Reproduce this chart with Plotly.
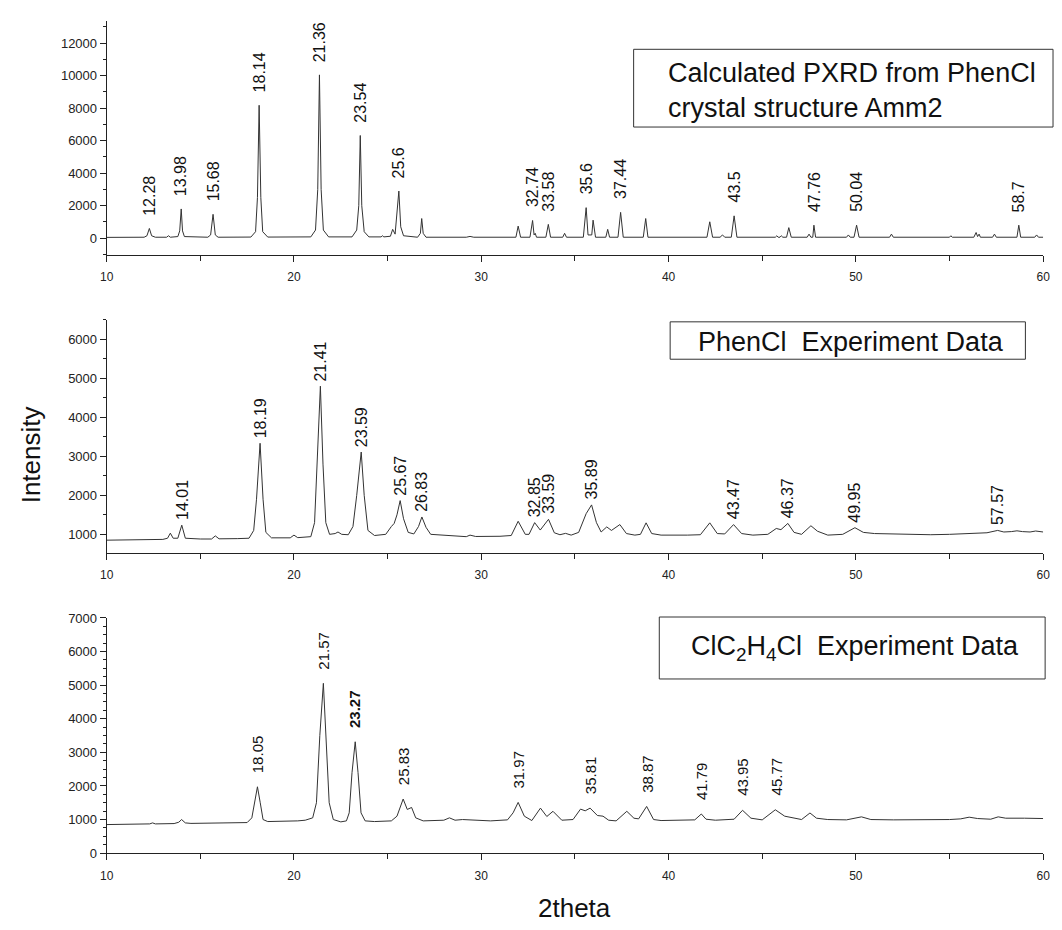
import numpy as np
import plotly.graph_objects as go

# ---------------- data ----------------
calc_x = [10.0, 12.0, 12.15, 12.28, 12.4, 12.6, 13.2, 13.3, 13.4, 13.8, 13.9, 13.98, 14.05, 14.15,
          15.4, 15.55, 15.68, 15.8, 15.95, 17.7, 17.95, 18.05, 18.14, 18.23, 18.33, 18.6,
          20.9, 21.15, 21.27, 21.36, 21.45, 21.57, 21.85, 23.1, 23.35, 23.46, 23.54, 23.62, 23.75, 24.0,
          24.65, 24.73, 24.8, 25.15, 25.27, 25.4, 25.6, 25.7, 25.85, 26.6, 26.75, 26.82, 26.9, 27.05,
          29.2, 29.4, 29.6, 31.85, 31.97, 32.1, 32.6, 32.74, 32.82, 32.88, 32.95, 33.45, 33.58, 33.7,
          34.35, 34.45, 34.55, 35.45, 35.6, 35.7, 35.9, 35.97, 36.1, 36.65, 36.75, 36.85,
          37.3, 37.44, 37.58, 38.65, 38.78, 38.9, 42.05, 42.2, 42.35, 42.75, 42.88, 43.0,
          43.35, 43.5, 43.65, 45.7, 45.78, 45.85, 45.95, 46.02, 46.1, 46.3, 46.42, 46.55,
          47.4, 47.5, 47.6, 47.7, 47.76, 47.85, 49.5, 49.6, 49.7, 49.9, 50.04, 50.17,
          51.8, 51.9, 52.0, 55.0, 55.07, 55.15, 56.3, 56.42, 56.5, 56.58, 56.65,
          57.3, 57.4, 57.5, 58.6, 58.7, 58.8, 59.55, 59.65, 59.75, 60.0]
calc_y = [50, 60, 150, 600, 150, 60, 60, 150, 60, 100, 450, 1800, 450, 100,
          60, 200, 1470, 200, 60, 70, 400, 2500, 8180, 2500, 400, 70,
          80, 500, 3000, 10050, 3000, 500, 80, 80, 500, 2000, 6320, 2000, 400, 80,
          80, 150, 80, 120, 545, 250, 2900, 700, 150, 60, 300, 1210, 300, 60,
          60, 110, 60, 60, 745, 60, 60, 1090, 200, 300, 60, 60, 850, 60,
          60, 300, 60, 60, 1880, 200, 200, 1110, 60, 60, 545, 60,
          60, 1590, 60, 60, 1210, 60, 60, 1010, 60, 60, 200, 60,
          60, 1375, 60, 60, 150, 60, 60, 150, 60, 60, 650, 60,
          60, 250, 60, 60, 800, 60, 60, 200, 60, 60, 800, 60,
          60, 250, 60, 60, 150, 60, 60, 350, 100, 250, 60,
          60, 250, 60, 60, 800, 60, 60, 200, 60, 60]

phen_x = [10.0, 11.0, 12.0, 13.0, 13.25, 13.4, 13.55, 13.8, 14.01, 14.2, 15.0, 15.6, 15.8, 16.0,
          17.0, 17.6, 17.85, 18.0, 18.19, 18.35, 18.5, 18.8, 19.8, 20.0, 20.2, 20.9, 21.1, 21.25,
          21.41, 21.55, 21.7, 21.9, 22.2, 22.35, 22.55, 22.9, 23.15, 23.35, 23.59, 23.75, 23.95,
          24.3, 24.9, 25.2, 25.35, 25.5, 25.67, 25.85, 26.1, 26.4, 26.65, 26.83, 27.05, 27.3,
          27.8, 28.3, 29.0, 29.2, 29.4, 29.7, 31.0, 31.6, 31.97, 32.35, 32.55, 32.85, 33.15,
          33.59, 33.9, 34.2, 34.5, 34.8, 35.2, 35.5, 35.6, 35.89, 36.15, 36.4, 36.7, 36.95,
          37.4, 37.75, 38.2, 38.5, 38.8, 39.1, 39.6, 41.0, 41.7, 42.2, 42.6, 43.0, 43.47, 43.9,
          44.5, 45.3, 45.75, 46.0, 46.37, 46.7, 47.1, 47.6, 47.95, 48.5, 49.3, 49.95, 50.4,
          51.0, 52.0, 53.0, 54.0, 55.0, 56.0, 57.0, 57.57, 57.9, 58.3, 58.6, 58.9, 59.3, 59.6, 60.0]
phen_y = [850, 855, 860, 870, 900, 1030, 900, 900, 1235, 900, 880, 880, 960, 885,
          890, 900, 1100, 1900, 3335, 1900, 1050, 910, 910, 980, 915, 940, 1300, 2800,
          4800, 2800, 1300, 1000, 1020, 1060, 1000, 990, 1200, 2000, 3110, 2000, 1100,
          970, 1000, 1200, 1280, 1500, 1865, 1400, 1050, 1010, 1200, 1445, 1180, 1000,
          980, 960, 940, 940, 980, 945, 950, 970, 1335, 1000, 1000, 1300, 1110,
          1385, 1040, 990, 1025, 980, 1050, 1450, 1530, 1755, 1300, 1060, 1190, 1100,
          1250, 1020, 980, 1000, 1295, 1020, 980, 980, 990, 1295, 1020, 1010, 1250, 1020,
          980, 1000, 1150, 1120, 1280, 1050, 1000, 1220, 1080, 980, 1000, 1170, 1050,
          1020, 1010, 1000, 990, 1000, 1020, 1040, 1100, 1060, 1070, 1090, 1070, 1060, 1085, 1060]

dce_x = [10.0, 11.0, 12.0, 12.3, 12.45, 12.6, 13.6, 13.85, 14.0, 14.2, 14.5, 16.0, 17.0, 17.5,
         17.75, 17.9, 18.05, 18.2, 18.35, 18.6, 19.5, 20.2, 20.6, 21.0, 21.2, 21.38, 21.57,
         21.72, 21.88, 22.1, 22.5, 22.8, 22.95, 23.1, 23.27, 23.42, 23.58, 23.8, 24.3, 25.2,
         25.5, 25.83, 26.05, 26.28, 26.5, 26.9, 28.0, 28.3, 28.6, 29.0, 29.3, 30.5, 31.4, 31.7,
         31.97, 32.3, 32.7, 33.16, 33.5, 33.83, 34.3, 34.9, 35.3, 35.55, 35.81, 36.2, 36.5,
         36.8, 37.2, 37.77, 38.15, 38.4, 38.83, 39.2, 39.6, 40.5, 41.4, 41.75, 42.0, 42.5,
         43.5, 43.95, 44.4, 45.0, 45.7, 46.2, 46.8, 47.1, 47.55, 47.9, 48.5, 49.5, 50.3, 50.8,
         52.0, 53.5, 55.0, 55.6, 56.05, 56.5, 57.2, 57.6, 58.0, 59.0, 60.0]
dce_y = [850, 855, 860, 870, 900, 870, 880, 920, 1000, 900, 885, 890, 900, 910,
         1050, 1500, 1975, 1500, 1000, 940, 940, 960, 980, 1050, 1500, 3500, 5055,
         3500, 1500, 1000, 930, 960, 1200, 2400, 3315, 2400, 1200, 960, 940, 960,
         1100, 1610, 1300, 1360, 1050, 960, 980, 1050, 980, 1000, 990, 960, 990, 1200,
         1510, 1100, 970, 1340, 1090, 1245, 980, 1000, 1310, 1260, 1340, 1120, 1100,
         980, 960, 1245, 1040, 1020, 1390, 1000, 970, 980, 990, 1165, 1010, 980,
         1010, 1275, 1040, 990, 1290, 1100, 1030, 1000, 1195, 1040, 1000, 990, 1080, 1000,
         990, 990, 1000, 1020, 1070, 1030, 1010, 1080, 1040, 1040, 1030]

calc_labels = [12.28, 13.98, 15.68, 18.14, 21.36, 23.54, 25.6, 32.74, 33.58, 35.6, 37.44,
               43.5, 47.76, 50.04, 58.7]
phen_labels = [14.01, 18.19, 21.41, 23.59, 25.67, 26.83, 32.85, 33.59, 35.89, 43.47,
               46.37, 49.95, 57.57]
dce_labels = [18.05, 21.57, 23.27, 25.83, 31.97, 35.81, 38.87, 41.79, 43.95, 45.77]

x_ticks = [10, 20, 30, 40, 50, 60]

# ---------------- styling ----------------
FONT = "Arial, Liberation Sans, sans-serif"
LINE = "#333333"
W, H = 1062, 930

def px_x(p):
    return p / W

def px_y(p):
    return 1 - p / H

x_dom = [px_x(101), px_x(1050)]
panels = [
    dict(x=calc_x, y=calc_y, labels=calc_labels, dom=[px_y(252), px_y(14)],
         rng=[-1030, 13380], dtick=2000, minor=1000, shift=11, lsize=16),
    dict(x=phen_x, y=phen_y, labels=phen_labels, dom=[px_y(555), px_y(318)],
         rng=[520, 6500], dtick=1000, minor=500, shift=3, lsize=16),
    dict(x=dce_x, y=dce_y, labels=dce_labels, dom=[px_y(860), px_y(621)],
         rng=[0, 7000], dtick=1000, minor=250, shift=12, lsize=15),
]

fig = go.Figure()
annotations = []
layout = dict(width=W, height=H, margin=dict(l=0, r=0, t=0, b=0),
              paper_bgcolor="white", plot_bgcolor="white", showlegend=False,
              font=dict(family=FONT, color="#111111"))

for i, p in enumerate(panels, start=1):
    sfx = "" if i == 1 else str(i)
    fig.add_trace(go.Scatter(x=p["x"], y=p["y"], mode="lines",
                             line=dict(color=LINE, width=1),
                             xaxis="x" + sfx, yaxis="y" + sfx, hoverinfo="skip"))
    layout["xaxis" + sfx] = dict(
        domain=x_dom, anchor="y" + sfx, range=[10, 60], tickvals=x_ticks,
        showline=True, linecolor="#222", linewidth=1, ticks="outside", ticklen=6,
        tickcolor="#222", showgrid=False, zeroline=False, ticklabelstandoff=5,
        tickfont=dict(size=12, family=FONT, color="#222"),
        minor=dict(dtick=5, tick0=10, ticks="outside", ticklen=5, tickcolor="#222"))
    layout["yaxis" + sfx] = dict(
        domain=p["dom"], anchor="x" + sfx, range=p["rng"], dtick=p["dtick"], tick0=0,
        tickformat="d",
        showline=True, linecolor="#222", linewidth=1, ticks="outside", ticklen=6,
        tickcolor="#222", showgrid=False, zeroline=False,
        tickfont=dict(size=13, family=FONT, color="#222"),
        minor=dict(dtick=p["minor"], tick0=0, ticks="outside", ticklen=3, tickcolor="#222"))
    xs = np.array(p["x"])
    ys = np.array(p["y"])
    for v in p["labels"]:
        near = np.abs(xs - v) <= 0.15
        peak = ys[near].max()
        txt = str(v)
        if i == 3 and v == 23.27:
            txt = "<b>" + txt + "</b>"
        annotations.append(dict(x=v, y=peak, xref="x" + sfx, yref="y" + sfx, text=txt,
                                showarrow=False, textangle=-90, xanchor="center",
                                yanchor="bottom", yshift=p["shift"],
                                font=dict(size=p["lsize"], family=FONT, color="#111")))

# text boxes
shapes = [
    dict(type="rect", xref="paper", yref="paper", x0=px_x(635), x1=px_x(1060),
         y0=px_y(122), y1=px_y(43), line=dict(color="#333", width=1)),
    dict(type="rect", xref="paper", yref="paper", x0=px_x(672), x1=px_x(1032),
         y0=px_y(358), y1=px_y(320), line=dict(color="#333", width=1)),
    dict(type="rect", xref="paper", yref="paper", x0=px_x(661), x1=px_x(1052),
         y0=px_y(683), y1=px_y(620), line=dict(color="#333", width=1)),
]
box_font = dict(size=27, family=FONT, color="#111")
annotations += [
    dict(x=px_x(668), y=px_y(85), xref="paper", yref="paper", showarrow=False,
         xanchor="left", yanchor="middle", align="left",
         text="Calculated PXRD from PhenCl<br>crystal structure Amm2", font=box_font),
    dict(x=px_x(855), y=px_y(340), xref="paper", yref="paper", showarrow=False,
         xanchor="center", yanchor="middle",
         text="PhenCl  Experiment Data", font=box_font),
    dict(x=px_x(859), y=px_y(651), xref="paper", yref="paper", showarrow=False,
         xanchor="center", yanchor="middle",
         text="ClC<sub>2</sub>H<sub>4</sub>Cl  Experiment Data", font=box_font),
    dict(x=px_x(24), y=px_y(455), xref="paper", yref="paper", showarrow=False,
         textangle=-90, xanchor="center", yanchor="middle", text="Intensity",
         font=dict(size=26, family=FONT, color="#111")),
    dict(x=px_x(575), y=px_y(916), xref="paper", yref="paper", showarrow=False,
         xanchor="center", yanchor="middle", text="2theta",
         font=dict(size=26, family=FONT, color="#111")),
]
layout["annotations"] = annotations
layout["shapes"] = shapes
fig.update_layout(**layout)
fig.write_html("out.html")
